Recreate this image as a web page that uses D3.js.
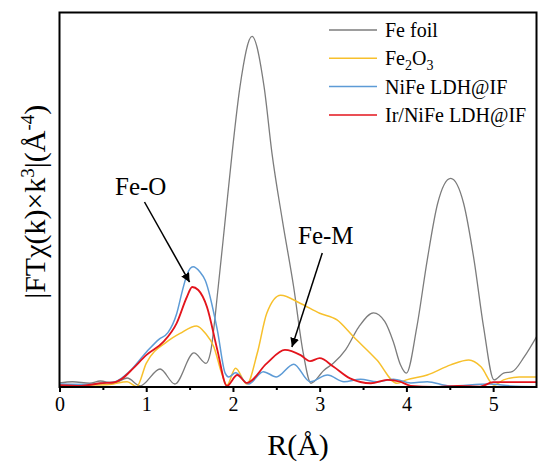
<!DOCTYPE html>
<html>
<head>
<meta charset="utf-8">
<script src="https://cdn.jsdelivr.net/npm/d3@7"></script>
<style>
  body { margin: 0; background: #fff; }
  svg text { font-family: "Liberation Serif", "Times New Roman", serif; }
</style>
</head>
<body>
<svg id="chart" width="539" height="466"></svg>
<script>
// R values (Å) and |FT| intensities (arbitrary units)
const feFoilR = [0, 0.15, 0.35, 0.47, 0.62, 0.78, 0.93, 1.16, 1.33, 1.55, 1.69, 1.74, 1.83, 1.91, 1.99, 2.08, 2.22, 2.36, 2.45, 2.57, 2.70, 2.81, 2.90, 3.05, 3.16, 3.3, 3.45, 3.62, 3.75, 3.85, 3.93, 4.0, 4.12, 4.24, 4.36, 4.51, 4.66, 4.78, 4.89, 5.01, 5.12, 5.22, 5.36, 5.5]
const feFoilV = [0.11, 0.14, 0.10, 0.16, 0.10, 0.24, 0.03, 0.48, 0.08, 0.91, 0.63, 0.91, 2.67, 4.45, 6.24, 8.0, 9.36, 8.0, 6.24, 4.45, 2.67, 0.91, 0.10, 0.45, 0.64, 1.0, 1.6, 1.98, 1.75, 1.2, 0.6, 0.37, 1.6, 3.39, 4.9, 5.57, 4.9, 3.39, 1.6, 0.19, 0.37, 0.41, 0.81, 1.34]

const fe2o3R = [0, 0.3, 0.58, 0.78, 0.89, 1.0, 1.24, 1.39, 1.58, 1.68, 1.78, 1.87, 1.93, 2.03, 2.16, 2.28, 2.39, 2.55, 2.78, 3.0, 3.2, 3.39, 3.66, 3.89, 4.0, 4.24, 4.51, 4.72, 4.86, 5.01, 5.12, 5.3, 5.5]
const fe2o3V = [0.03, 0.05, 0.07, 0.14, 0.01, 0.63, 1.21, 1.43, 1.63, 1.44, 1.07, 0.37, 0.05, 0.50, 0.08, 0.9, 1.97, 2.45, 2.23, 1.97, 1.79, 1.34, 0.72, 0.10, 0.19, 0.32, 0.59, 0.72, 0.54, 0.05, 0.19, 0.27, 0.27]

const nifeR = [0, 0.3, 0.5, 0.65, 0.8, 1.0, 1.15, 1.25, 1.35, 1.42, 1.47, 1.54, 1.62, 1.68, 1.82, 1.91, 1.95, 2.03, 2.18, 2.35, 2.5, 2.70, 2.89, 3.09, 3.28, 3.47, 3.66, 3.85, 4.05, 4.24, 4.5, 4.95, 5.2, 5.5]
const nifeV = [0.08, 0.07, 0.11, 0.15, 0.40, 0.93, 1.28, 1.45, 1.95, 2.6, 3.0, 3.21, 3.07, 2.85, 1.52, 0.37, 0.27, 0.38, 0.08, 0.41, 0.27, 0.61, 0.14, 0.32, 0.14, 0.21, 0.14, 0.21, 0.11, 0.14, 0.03, 0.08, 0.03, 0.01]

const irNifeR = [0, 0.25, 0.47, 0.62, 0.72, 0.85, 1.0, 1.2, 1.35, 1.47, 1.53, 1.60, 1.70, 1.82, 1.93, 2.05, 2.16, 2.39, 2.60, 2.78, 2.89, 3.0, 3.16, 3.35, 3.59, 3.78, 3.93, 4.05, 4.31, 4.6, 4.85, 5.0, 5.5]
const irNifeV = [0.05, 0.03, 0.10, 0.12, 0.22, 0.50, 0.85, 1.21, 1.70, 2.41, 2.67, 2.59, 2.14, 0.99, 0.03, 0.32, 0.11, 0.63, 0.99, 0.85, 0.69, 0.77, 0.54, 0.23, 0.10, 0.19, 0.14, 0.03, 0.0, 0.03, 0.01, 0.13, 0.13]

const seriesNames = ["Fe foil", "Fe2O3", "NiFe LDH@IF", "Ir/NiFe LDH@IF"]
const seriesColors = ["#7c7c7c", "#f7c02c", "#5d9bd6", "#e3141c"]
const xTicks = [0, 1, 2, 3, 4, 5]
const xMinorTicks = [0.5, 1.5, 2.5, 3.5, 4.5]

// annotations: [label, text R, text value, arrow from R, from value, to R, to value]
const notes = [
  ["Fe-O", 0.64, 5.12, 0.98, 4.94, 1.50, 2.80],
  ["Fe-M", 2.75, 3.81, 3.03, 3.58, 2.68, 1.07]
]

const FONT = "Liberation Serif"
const svg = d3.select("#chart").attr("font-family", FONT)
const margin = { left: 59.5, right: 2.5, top: 12.5, bottom: 79 }
const W = 539, H = 466

const x = d3.scaleLinear().domain([0, 5.5]).range([margin.left, W - margin.right])
const y = d3.scaleLinear().domain([0, 10]).range([H - margin.bottom, margin.top])

const defs = svg.append("defs")
defs.append("clipPath").attr("id", "plotclip")
  .append("rect")
  .attr("x", x(0)).attr("y", y(10))
  .attr("width", x(5.5) - x(0)).attr("height", y(0) - y(10))

defs.append("marker")
  .attr("id", "arrowhead")
  .attr("viewBox", "0 0 10 10")
  .attr("refX", 10).attr("refY", 5)
  .attr("markerWidth", 9).attr("markerHeight", 9)
  .attr("markerUnits", "userSpaceOnUse")
  .attr("orient", "auto")
  .append("path").attr("d", "M0,0 L10,5 L0,10 z").attr("fill", "#000")

const seriesData = [
  feFoilR.map((r, i) => [r, feFoilV[i]]),
  fe2o3R.map((r, i) => [r, fe2o3V[i]]),
  nifeR.map((r, i) => [r, nifeV[i]]),
  irNifeR.map((r, i) => [r, irNifeV[i]])
]

const line = d3.line()
  .x(d => x(d[0]))
  .y(d => y(d[1]))
  .curve(d3.curveMonotoneX)

const plot = svg.append("g").attr("clip-path", "url(#plotclip)")
const widths = [1.3, 1.5, 1.5, 1.8]
seriesData.forEach((s, i) => {
  plot.append("path")
    .datum(s)
    .attr("d", line)
    .attr("fill", "none")
    .attr("stroke", seriesColors[i])
    .attr("stroke-width", widths[i])
})

// frame
svg.append("rect")
  .attr("x", x(0)).attr("y", y(10))
  .attr("width", x(5.5) - x(0)).attr("height", y(0) - y(10))
  .attr("fill", "none").attr("stroke", "#000").attr("stroke-width", 2)

// x axis
const xAxis = svg.append("g")
  .attr("transform", `translate(0,${y(0)})`)
  .call(d3.axisBottom(x).tickValues(xTicks).tickSize(5).tickPadding(5).tickFormat(d3.format("d")))
  .attr("font-family", FONT)
xAxis.select(".domain").remove()
xAxis.selectAll(".tick line").attr("stroke", "#000").attr("stroke-width", 2)
xAxis.selectAll(".tick text")
  .attr("font-family", FONT).attr("font-size", 20).attr("fill", "#000")

const xMinor = svg.append("g")
  .attr("transform", `translate(0,${y(0)})`)
  .call(d3.axisBottom(x).tickValues(xMinorTicks).tickSize(3).tickFormat(""))
xMinor.select(".domain").remove()
xMinor.selectAll(".tick line").attr("stroke", "#000").attr("stroke-width", 2)

// axis titles
svg.append("text")
  .attr("x", (x(0) + x(5.5)) / 2).attr("y", 455)
  .attr("text-anchor", "middle")
  .attr("font-family", FONT)
  .attr("font-size", 30)
  .text("R(Å)")

const yTitle = svg.append("text")
  .attr("transform", `translate(45,${(y(0) + y(10)) / 2 + 2}) rotate(-90)`)
  .attr("text-anchor", "middle")
  .attr("font-family", FONT)
  .attr("font-size", 30)
yTitle.append("tspan").text("|FTχ(k)×k")
yTitle.append("tspan").attr("font-size", 19).attr("dy", -11).text("3")
yTitle.append("tspan").attr("dy", 11).text("|(Å")
yTitle.append("tspan").attr("font-size", 19).attr("dy", -11).text("-4")
yTitle.append("tspan").attr("dy", 11).text(")")

// legend
const legend = svg.append("g").attr("font-family", FONT).attr("font-size", 20)
seriesNames.forEach((name, i) => {
  const ly = 30 + i * 28.3
  legend.append("line")
    .attr("x1", 329).attr("x2", 377).attr("y1", ly).attr("y2", ly)
    .attr("stroke", seriesColors[i]).attr("stroke-width", 1.5)
  const t = legend.append("text").attr("x", 385).attr("y", ly + 7)
    .attr("font-family", FONT).attr("font-size", 20)
  if (name === "Fe2O3") {
    t.append("tspan").text("Fe")
    t.append("tspan").attr("font-size", 14).attr("dy", 5).text("2")
    t.append("tspan").attr("dy", -5).text("O")
    t.append("tspan").attr("font-size", 14).attr("dy", 5).text("3")
  } else {
    t.text(name)
  }
})

// annotations
notes.forEach(n => {
  svg.append("text")
    .attr("x", x(n[1])).attr("y", y(n[2]))
    .attr("font-family", FONT)
    .attr("font-size", 25)
    .text(n[0])
  svg.append("line")
    .attr("x1", x(n[3])).attr("y1", y(n[4]))
    .attr("x2", x(n[5])).attr("y2", y(n[6]))
    .attr("stroke", "#000").attr("stroke-width", 1.5)
    .attr("marker-end", "url(#arrowhead)")
})
</script>
</body>
</html>
